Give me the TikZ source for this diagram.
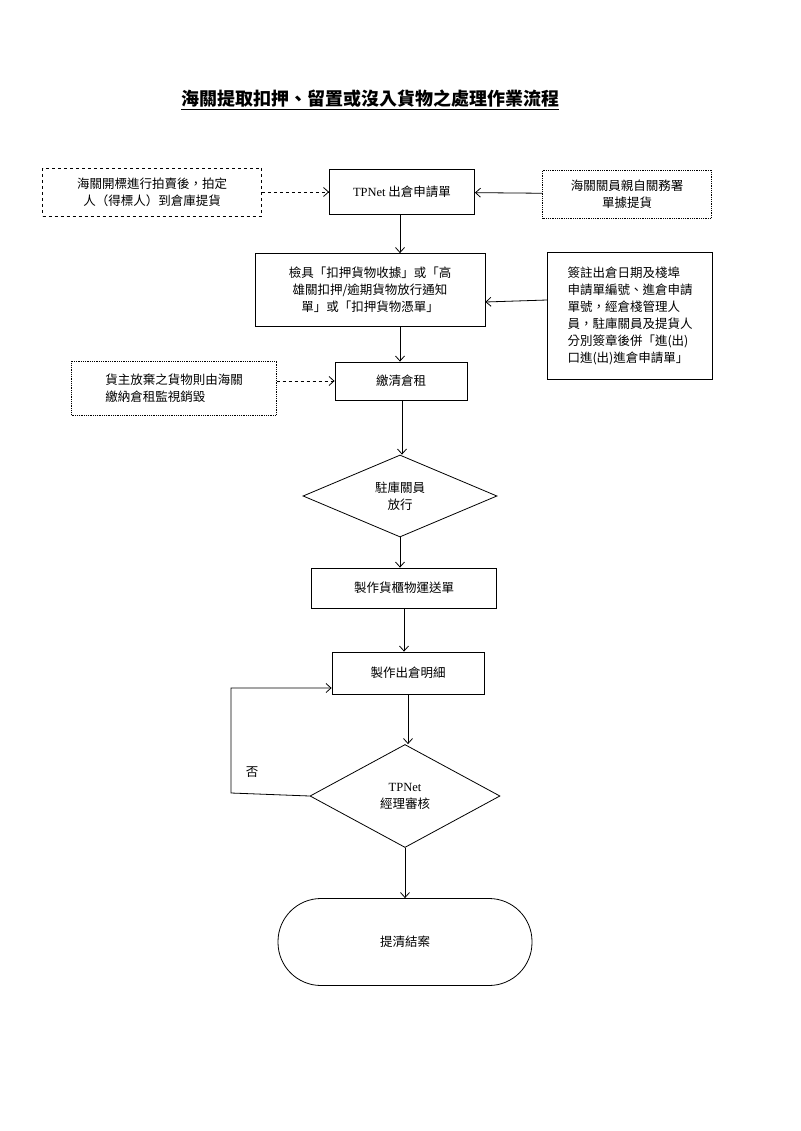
\documentclass[tikz,border=0pt]{standalone}
\usepackage{fontspec}
\setmainfont{Liberation Serif}
\newfontfamily\cjk{Noto Sans CJK TC}
\usetikzlibrary{arrows.meta}
\usetikzlibrary{shapes.geometric}

\tikzset{
	box/.style={draw,thick,align=center,inner sep=2pt},
	dbox/.style={box,dashed},
	tbox/.style={box,densely dotted,thin},
	dec/.style={draw,thick,diamond,aspect=2.35,align=center,inner sep=0pt},
	flow/.style={thick,-{Straight Barb[length=5pt,width=9pt]}},
}

\begin{document}
\begin{tikzpicture}[x=1pt,y=-1pt,font=\cjk\fontsize{12.5}{17}\selectfont]
	\useasboundingbox (0,0) rectangle (800,1131);
	\node[font=\cjk\bfseries\fontsize{18}{22}\selectfont] (title) at (370,100) {\underline{海關提取扣押、留置或沒入貨物之處理作業流程}};
	% upper row
	\node[dbox,minimum width=219,minimum height=48] (auction) at (152,192) {海關開標進行拍賣後，拍定\\人（得標人）到倉庫提貨};
	\node[box,minimum width=145,minimum height=45] (apply) at (402,192) {{\rmfamily TPNet} 出倉申請單};
	\node[tbox,minimum width=169,minimum height=48] (staff) at (627,194) {海關關員親自關務署\\單據提貨};
	\node[box,minimum width=230,minimum height=73] (check) at (370,290) {檢具「扣押貨物收據」或「高\\雄關扣押/逾期貨物放行通知\\單」或「扣押貨物憑單」};
	\node[box,minimum width=165,minimum height=127,align=left] (sign) at (630,316) {簽註出倉日期及棧埠\\申請單編號、進倉申請\\單號，經倉棧管理人\\員，駐庫關員及提貨人\\分別簽章後併「進(出)\\口進(出)進倉申請單」};
	\node[box,minimum width=132,minimum height=38] (rent) at (401,381) {繳清倉租};
	\node[tbox,minimum width=205,minimum height=54,align=left] (abandon) at (174,388) {貨主放棄之貨物則由海關\\繳納倉租監視銷毀};
	% main flow
	\node[dec,minimum width=194,minimum height=82] (release) at (400,496) {駐庫關員\\放行};
	\node[box,minimum width=185,minimum height=40] (transport) at (404,588) {製作貨櫃物運送單};
	\node[box,minimum width=152,minimum height=42] (detail) at (408,673) {製作出倉明細};
	\node[dec,minimum width=190,minimum height=103] (review) at (405,796) {{\rmfamily TPNet}\\經理審核};
	\node[draw,thick,rounded corners=43,minimum width=254,minimum height=87] (done) at (405,942) {提清結案};
	\coordinate (lb) at (231,793);
	\coordinate (lt) at (231,688);
	\node (no) at (252,772) {否};
	% connectors
	\draw[flow,dashed] (auction) -- (apply);
	\draw[flow] (staff) -- (apply);
	\draw[flow] (apply.south -| 400,0) -- (check.north -| 400,0);
	\draw[flow] (sign.west |- 0,300) -- (check.east |- 0,302);
	\draw[flow] (check.south -| 400,0) -- (rent.north -| 400,0);
	\draw[flow,dashed] (abandon.east |- 0,381) -- (rent.west |- 0,381);
	\draw[flow] (rent.south -| 402,0) -- (release.north -| 402,0);
	\draw[flow] (release) -- (release |- transport.north);
	\draw[flow] (transport) -- (transport |- detail.north);
	\draw[flow] (detail) -- (detail |- review.north);
	\draw[flow] (review) -- (review |- done.north);
	\draw[flow] (review.west) -- (lb) -- (lt) -- (detail.west |- lt);
\end{tikzpicture}
\end{document}
